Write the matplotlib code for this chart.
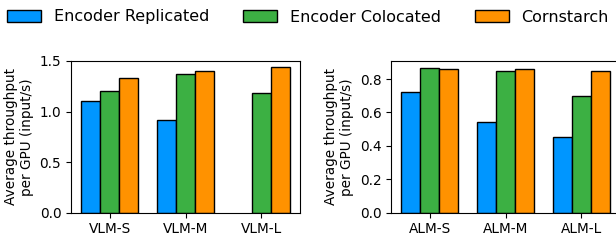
import numpy as np
import matplotlib
matplotlib.use("Agg")
import matplotlib.pyplot as plt

vlm_models = ["VLM-S", "VLM-M", "VLM-L"]
alm_models = ["ALM-S", "ALM-M", "ALM-L"]
series = ["Encoder Replicated", "Encoder Colocated", "Cornstarch"]
colors = ["#0096FF", "#3CB043", "#FF9200"]

vlm_replicated = [1.10, 0.92, np.nan]
vlm_colocated = [1.20, 1.37, 1.18]
vlm_cornstarch = [1.33, 1.40, 1.44]

alm_replicated = [0.72, 0.545, 0.455]
alm_colocated = [0.865, 0.85, 0.70]
alm_cornstarch = [0.86, 0.86, 0.85]

ylabel = "Average throughput\nper GPU (input/s)"

fig = plt.figure(figsize=(6.16, 2.41), dpi=100)
ax1 = fig.add_axes([71/616, 1-212.5/241, 229/616, (212.5-61)/241])
ax2 = fig.add_axes([391/616, 1-212.5/241, 229/616, (212.5-61)/241])

fs = 9.8
w = 0.25
def draw(ax, cats, vals):
    x = np.arange(len(cats))
    handles = []
    for i, (v, c, s) in enumerate(zip(vals, colors, series)):
        h = ax.bar(x + (i-1)*w, v, w, color=c, edgecolor="black", linewidth=1, label=s)
        handles.append(h)
    ax.set_xticks(x)
    ax.set_xticklabels(cats, fontsize=fs)
    ax.tick_params(axis="y", labelsize=fs)
    ax.set_ylabel(ylabel, fontsize=fs)
    return handles

handles = draw(ax1, vlm_models, [vlm_replicated, vlm_colocated, vlm_cornstarch])
ax1.set_ylim(0, 1.5)
ax1.set_yticks([0, 0.5, 1.0, 1.5])
draw(ax2, alm_models, [alm_replicated, alm_colocated, alm_cornstarch])

fig.legend(handles, series, loc="center", bbox_to_anchor=(0.5, 1-17/241), ncol=3,
           frameon=False, fontsize=11.5, handlelength=2.1, columnspacing=2.15)

fig.savefig("out.png", dpi=100)
